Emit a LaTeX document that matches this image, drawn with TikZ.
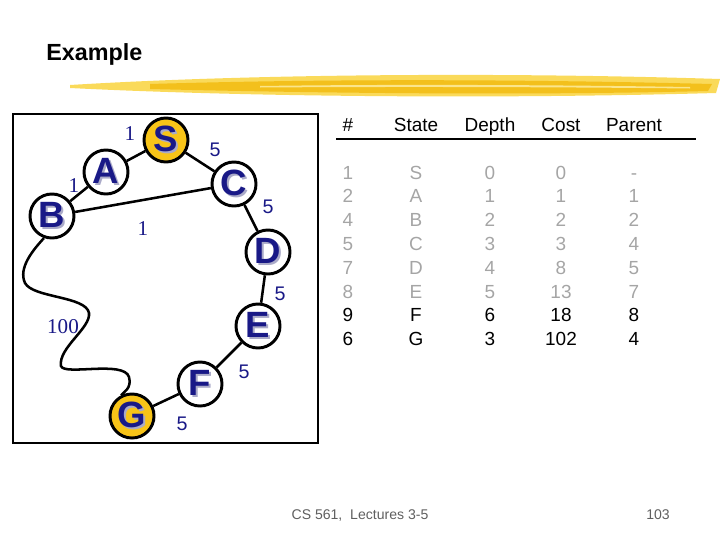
\documentclass[tikz,border=0pt]{standalone}
\usepackage{fontspec}
\setmainfont{Liberation Sans}
\newfontfamily\serifnum{Liberation Serif}
\definecolor{letterblue}{RGB}{25,25,135}
\definecolor{goldfill}{RGB}{248,196,24}
\definecolor{brushlight}{RGB}{250,218,90}
\definecolor{brushdark}{RGB}{243,192,28}
\definecolor{closedgray}{RGB}{165,165,165}
\definecolor{footgray}{RGB}{95,95,95}
\definecolor{shadowgray}{RGB}{170,170,200}
\newcommand{\shadowed}[1]{\makebox[0pt][l]{\hspace{1.4pt}\raisebox{-1.4pt}{\textcolor{shadowgray}{#1}}}#1}
\newcommand{\closed}[1]{\textcolor{closedgray}{#1}}

\begin{document}
\begin{tikzpicture}[
x=0.025cm,
y=-0.025cm,
state/.style={
circle,
draw=black,
line width=2.1pt,
fill=white,
inner sep=0pt,
minimum size=1.1cm,
text=letterblue,
font=\fontsize{26}{26}\selectfont\bfseries
},
goal/.style={
state,
fill=goldfill
},
edge/.style={
draw=black,
line width=1.8pt
},
cost/.style={
text=letterblue,
inner sep=0pt,
font=\fontsize{14}{14}\selectfont
},
unit/.style={
text=letterblue,
inner sep=0pt,
font=\serifnum\fontsize{15}{15}\selectfont
},
head/.style={
anchor=base,
inner sep=0pt,
font=\fontsize{13.5}{15}\selectfont
},
column/.style={
anchor=north,
align=center,
inner sep=0pt,
font=\fontsize{13.5}{16.9}\selectfont
},
footer/.style={
text=footgray,
inner sep=0pt,
font=\fontsize{10}{12}\selectfont
}
]

\useasboundingbox (0,0) rectangle (720,540);

\node[anchor=west, inner sep=0pt, font=\fontsize{16.6}{18}\selectfont\bfseries] (title) at (46,54) {Example};

\fill[brushlight] (70,85) .. controls (250,74) and (500,72) .. (720,79) -- (716,93) .. controls (500,99) and (250,97) .. (70,88) -- cycle;
\fill[brushdark] (150,84) .. controls (350,78) and (550,80) .. (712,84) -- (708,91) .. controls (550,95) and (350,94) .. (150,89) -- cycle;
\fill[brushlight!70!white] (260,86) .. controls (400,84) and (560,85) .. (690,87) -- (690,88.5) .. controls (560,87) and (400,86.5) .. (260,87.5) -- cycle;

\draw[line width=0.8pt] (13,114) rectangle (318,443);

\node[goal] (S) at (166,140) {\shadowed{S}};
\node[state] (A) at (106,172) {\shadowed{A}};
\node[state] (B) at (52,216) {\shadowed{B}};
\node[state] (C) at (234,184) {\shadowed{C}};
\node[state] (D) at (268,252) {\shadowed{D}};
\node[state] (E) at (258,326) {\shadowed{E}};
\node[state] (F) at (200,384) {\shadowed{F}};
\node[goal] (G) at (132,416) {\shadowed{G}};

\draw[edge] (S) -- (A);
\draw[edge] (A) -- (B);
\draw[edge] (S) -- (C);
\draw[edge] (C) -- (D);
\draw[edge] (D) -- (E);
\draw[edge] (E) -- (F);
\draw[edge] (F) -- (G);
\draw[edge] (B) -- (C);
\draw[edge] (B.250) .. controls (33,250) and (18,268) .. (25,283) .. controls (33,298) and (86,296) .. (89,313) .. controls (91,328) and (58,348) .. (61,366) .. controls (64,376) and (124,360) .. (129,377) .. controls (132,388) and (124,392) .. (G.118);

\node[unit] (wAS) at (130,134) {1};
\node[unit] (wBA) at (74,186) {1};
\node[cost] (wSC) at (215,150) {5};
\node[cost] (wCD) at (268,207) {5};
\node[unit] (wBC) at (143,229) {1};
\node[cost] (wDE) at (280,294) {5};
\node[unit] (wBG) at (63,327) {100};
\node[cost] (wEF) at (244,372) {5};
\node[cost] (wFG) at (182,424) {5};

\node[head] (hnum) at (348,131) {\#};
\node[head] (hstate) at (416,131) {State};
\node[head] (hdepth) at (490,131) {Depth};
\node[head] (hcost) at (561,131) {Cost};
\node[head] (hparent) at (634,131) {Parent};
\draw[line width=1.8pt] (336,139) -- (696,139);

\node[column] (cnum) at (348,162.3)
{\strut\closed{1}\\\closed{2}\\\closed{4}\\\closed{5}\\\closed{7}\\\closed{8}\\9\\6};
\node[column] (cstate) at (416,162.3)
{\strut\closed{S}\\\closed{A}\\\closed{B}\\\closed{C}\\\closed{D}\\\closed{E}\\F\\G};
\node[column] (cdepth) at (490,162.3)
{\strut\closed{0}\\\closed{1}\\\closed{2}\\\closed{3}\\\closed{4}\\\closed{5}\\6\\3};
\node[column] (ccost) at (561,162.3)
{\strut\closed{0}\\\closed{1}\\\closed{2}\\\closed{3}\\\closed{8}\\\closed{13}\\18\\102};
\node[column] (cparent) at (634,162.3)
{\strut\closed{-}\\\closed{1}\\\closed{2}\\\closed{4}\\\closed{5}\\\closed{7}\\8\\4};

\node[footer] (course) at (360,515) {CS 561,\ \ Lectures 3-5};
\node[footer] (page) at (658,515) {103};

\end{tikzpicture}
\end{document}
